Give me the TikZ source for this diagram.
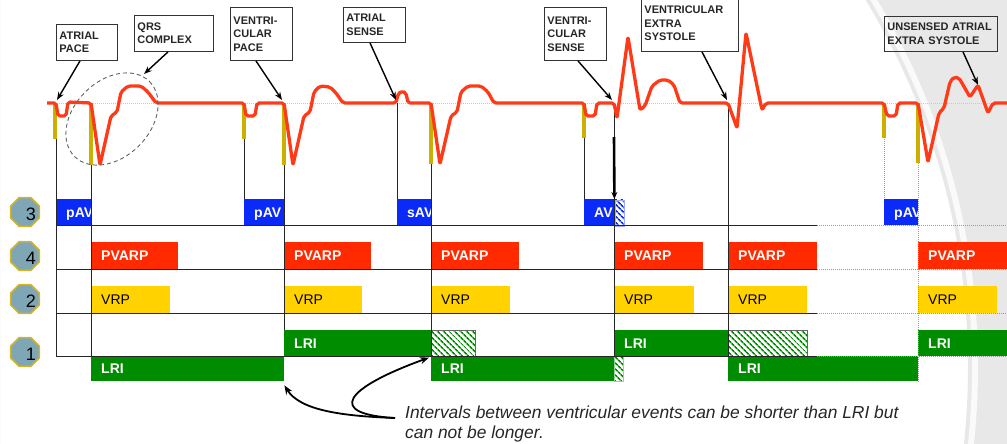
\documentclass[tikz,border=0pt]{standalone}
\usepackage{fontspec}
\setsansfont{Liberation Sans}
\usetikzlibrary{shapes.geometric,arrows.meta,patterns.meta}

\definecolor{ecgred}{RGB}{255,58,24}
\definecolor{spkgold}{RGB}{205,175,0}
\definecolor{basetan}{RGB}{232,200,120}
\definecolor{avblue}{RGB}{10,42,250}
\definecolor{pvred}{RGB}{255,42,0}
\definecolor{vryel}{RGB}{255,210,0}
\definecolor{lrgreen}{RGB}{0,140,0}
\definecolor{octfill}{RGB}{127,166,180}
\definecolor{octline}{RGB}{212,180,40}
\definecolor{bggray}{RGB}{232,232,232}

\begin{document}
\begin{tikzpicture}[x=1pt,y=-1pt]
    \sffamily

    \tikzset{ecg/.style={draw=ecgred,line width=3.3pt,rounded corners=2pt,line join=round}}
    \tikzset{spk/.style={draw=spkgold,line width=4pt}}
    \tikzset{ev/.style={draw=black!85,line width=0.8pt}}
    \tikzset{evd/.style={draw=gray!80,line width=0.8pt,dash pattern=on 1pt off 1pt}}
    \tikzset{bx/.style={rectangle,inner sep=0pt,anchor=north west}}
    \tikzset{avb/.style={bx,fill=avblue,minimum height=26}}
    \tikzset{pvb/.style={bx,fill=pvred,minimum height=27}}
    \tikzset{vrb/.style={bx,fill=vryel,minimum height=27}}
    \tikzset{lrb/.style={bx,fill=lrgreen,minimum height=26}}
    \tikzset{hatch/.style={bx,draw=black!60,line width=0.6pt,pattern={Lines[angle=-45,distance=4pt,line width=1.6pt]},pattern color=#1}}
    \tikzset{tagtxt/.style={anchor=west,xshift=10pt,inner sep=0pt,text=white,text height=10pt,text depth=0pt,font=\bfseries\fontsize{14}{16}\selectfont}}
    \tikzset{tag/.style={label={[tagtxt]west:#1}}}
    \tikzset{dtag/.style={label={[tagtxt,text=black,font=\fontsize{14}{16}\selectfont]west:#1}}}
    \tikzset{call/.style={draw=black!80,line width=0.9pt,anchor=north west,inner xsep=3pt,inner ysep=0pt,align=left,text=black!85,font=\bfseries\fontsize{11}{13.5}\selectfont}}
    \tikzset{callarr/.style={draw=black,line width=1.4pt,-{Stealth[length=8pt,width=6pt]}}}
    \tikzset{curv/.style={draw=black,line width=1.8pt,-{Stealth[length=9pt,width=7pt]}}}
    \tikzset{oct/.style={regular polygon,regular polygon sides=8,minimum size=31,inner sep=0pt,fill=octfill,draw=octline,line width=1.6pt}}
    \tikzset{num/.style={inner sep=0pt,font=\fontsize{18}{18}\selectfont}}

    \useasboundingbox (0,0) rectangle (1007,444);

    % slide background
    \begin{scope}
        \clip (0,0) rectangle (1007,444);
        \fill[bggray,even odd rule] (0,0) rectangle (1007,444) (260,367) circle [radius=708];
        \draw[white,line width=6pt,opacity=0.8] (260,367) circle [radius=715];
    \end{scope}

    \draw[basetan,line width=0.8pt,dash pattern=on 1pt off 1pt] (47,103) -- (1007,103);

    % row numbers
    \node[oct] (o3) at (25,212) {};
    \node[oct] (o4) at (25,256) {};
    \node[oct] (o2) at (25,299) {};
    \node[oct] (o1) at (25,352) {};
    \node[num] (n3) at (31,214) {3};
    \node[num] (n4) at (31,258) {4};
    \node[num] (n2) at (31,301) {2};
    \node[num] (n1) at (31,354) {1};

    % AV row
    \node[avb,minimum width=35,tag=pAV] (pav1) at (56,199) {};
    \node[avb,minimum width=40,tag=pAV] (pav2) at (244,199) {};
    \node[avb,minimum width=34,tag=sAV] (sav3) at (397,199) {};
    \node[avb,minimum width=30,tag=AV] (av4) at (584,199) {};
    \node[hatch=avblue,minimum width=9,minimum height=26,draw=avblue!40] (avh4) at (614,199) {};
    \node[avb,minimum width=34,tag=pAV] (pav6) at (884,199) {};

    % PVARP row
    \node[pvb,minimum width=87,tag=PVARP] (pvarp1) at (91,242) {};
    \node[pvb,minimum width=87,tag=PVARP] (pvarp2) at (284,242) {};
    \node[pvb,minimum width=88,tag=PVARP] (pvarp3) at (431,242) {};
    \node[pvb,minimum width=89,tag=PVARP] (pvarp4) at (614,242) {};
    \node[pvb,minimum width=89,tag=PVARP] (pvarp5) at (728,242) {};
    \node[pvb,minimum width=89,tag=PVARP] (pvarp6) at (918,242) {};

    % VRP row
    \node[vrb,minimum width=79,dtag=VRP] (vrp1) at (91,286) {};
    \node[vrb,minimum width=78,dtag=VRP] (vrp2) at (284,286) {};
    \node[vrb,minimum width=79,dtag=VRP] (vrp3) at (431,286) {};
    \node[vrb,minimum width=80,dtag=VRP] (vrp4) at (614,286) {};
    \node[vrb,minimum width=79,dtag=VRP] (vrp5) at (728,286) {};
    \node[vrb,minimum width=79,dtag=VRP] (vrp6) at (918,286) {};

    % LRI rows
    \node[lrb,minimum width=147,tag=LRI] (lri2) at (284,330) {};
    \node[hatch=lrgreen,minimum width=44,minimum height=26] (lrh3) at (431,330) {};
    \node[lrb,minimum width=114,tag=LRI] (lri4) at (614,330) {};
    \node[hatch=lrgreen,minimum width=79,minimum height=26] (lrh5) at (728,330) {};
    \node[lrb,minimum width=89,tag=LRI] (lri6) at (918,330) {};
    \node[lrb,minimum width=193,minimum height=25,tag=LRI] (lrb1) at (91,356) {};
    \node[lrb,minimum width=183,minimum height=25,tag=LRI] (lrb3) at (431,356) {};
    \node[hatch=lrgreen,minimum width=9,minimum height=25,draw=lrgreen!40] (lrbh4) at (614,356) {};
    \node[lrb,minimum width=190,minimum height=25,tag=LRI] (lrb5) at (728,356) {};

    % grid
    \draw[ev] (56,225) -- (817,225) (56,269) -- (817,269) (56,313) -- (817,313) (56,356) -- (817,356);
    \draw[evd] (817,225) -- (1007,225) (817,269) -- (1007,269) (817,313) -- (1007,313) (817,356) -- (1007,356);
    \draw[ev] (56,103) -- (56,356);
    \draw[ev] (91,103) -- (91,356);
    \draw[ev] (244,103) -- (pav2.north west);
    \draw[ev] (284,103) -- (lri2.north west);
    \draw[ev] (397,103) -- (sav3.north west);
    \draw[ev] (431,103) -- (lrb3.north west);
    \draw[ev] (584,103) -- (av4.north west);
    \draw[ev] (614,103) -- (lrbh4.north west);
    \draw[ev] (728,103) -- (lrb5.north west);
    \draw[evd] (884,103) -- (pav6.north west);
    \draw[evd] (918,103) -- (918,383);
    \draw[line width=2.6pt,-{Stealth[length=7pt,width=6pt]}] (614,137) -- (av4.north east);

    % pacing spikes
    \draw[spk] (55,103) -- (55,139) (91,103) -- (91,165);
    \draw[spk] (244,103) -- (244,139) (284,103) -- (284,165);
    \draw[spk] (431,103) -- (431,164);
    \draw[spk] (584,103) -- (584,138);
    \draw[spk] (884,103) -- (884,138) (918,103) -- (918,163);

    % ECG
    \draw[ecg] (47,103) -- (56,103) -- (58,116) -- (66,116) -- (68,102) -- (91,103)
        -- (100,165) -- (111,116) -- (117,112) -- (121,92) -- (128,86) -- (141,86) -- (148,92) -- (156,103)
        -- (244,103) -- (246,116) -- (255,116) -- (257,103) -- (284,103)
        -- (293,165) -- (304,116) -- (310,112) -- (314,92) -- (320,86) -- (330,87) -- (336,93) -- (343,103)
        -- (396,103) -- (398,94) -- (402,91) -- (406,93) -- (408,103) -- (431,103)
        -- (440,164) -- (451,116) -- (457,112) -- (461,92) -- (468,86) -- (481,86) -- (488,92) -- (494,103)
        -- (584,103) -- (586,116) -- (595,116) -- (597,103) -- (614,103)
        -- (617,118) -- (628,37) -- (640,110) -- (645,106) -- (652,86) -- (660,80) -- (668,80) -- (674,85) -- (680,103)
        -- (728,103) -- (737,128) -- (746,33) -- (762,110) -- (766,103)
        -- (884,103) -- (887,116) -- (896,116) -- (898,103) -- (918,103)
        -- (928,162) -- (939,113) -- (944,108) -- (950,82) -- (954,77) -- (959,78) -- (970,97) -- (978,85)
        -- (988,113) -- (993,103) -- (1007,103);

    \draw[gray!75!black,line width=0.9pt,dash pattern=on 4pt off 3pt,rotate around={45:(112,119)}] (112,119) ellipse [x radius=53, y radius=38];

    % callouts
    \coordinate (tAP) at (57,100);
    \coordinate (tQRS) at (144,74);
    \coordinate (tVP) at (282,100);
    \coordinate (tAS) at (396,100);
    \coordinate (tVS) at (612,100);
    \coordinate (tVES) at (727,100);
    \coordinate (tUA) at (978,85);
    \node[call,text width=55pt,minimum height=36] (cAP) at (56,24) {ATRIAL\\PACE};
    \node[call,text width=73pt,minimum height=36] (cQRS) at (134,15) {QRS\\COMPLEX};
    \node[call,text width=56pt,minimum height=53] (cVP) at (230,7) {VENTRI-\\CULAR\\PACE};
    \node[call,text width=56pt,minimum height=35] (cAS) at (343,7) {ATRIAL\\SENSE};
    \node[call,text width=56pt,minimum height=53] (cVS) at (544,7) {VENTRI-\\CULAR\\SENSE};
    \node[call,text width=91pt,minimum height=56] (cVES) at (641,-5) {VENTRICULAR\\EXTRA\\SYSTOLE};
    \node[call,text width=107pt,minimum height=35] (cUA) at (884,16) {UNSENSED ATRIAL\\EXTRA SYSTOLE};
    \draw[callarr] ([xshift=24pt]cAP.south west) -- (tAP);
    \draw[callarr] ([xshift=34pt]cQRS.south west) -- (tQRS);
    \draw[callarr] ([xshift=26pt]cVP.south west) -- (tVP);
    \draw[callarr] ([xshift=27pt]cAS.south west) -- (tAS);
    \draw[callarr] ([xshift=34pt]cVS.south west) -- (tVS);
    \draw[callarr] ([xshift=61pt]cVES.south west) -- (tVES);
    \draw[callarr] ([xshift=79pt]cUA.south west) -- (tUA);

    % note
    \node[anchor=north west,inner sep=0pt,align=left,text=black!85,font=\itshape\fontsize{17.4}{20}\selectfont] (note) at (405,405.5)
        {Intervals between ventricular events can be shorter than LRI but\\can not be longer.};
    \draw[curv] ([xshift=-10pt,yshift=-12.5pt]note.north west) .. controls (340,416) and (300,410) .. ([yshift=-4pt]lrb1.south east);
    \draw[curv] ([xshift=-10pt,yshift=-12.5pt]note.north west) .. controls (325,414) and (345,388) .. ([xshift=-2pt,yshift=-1pt]lrh3.south west);
\end{tikzpicture}
\end{document}
